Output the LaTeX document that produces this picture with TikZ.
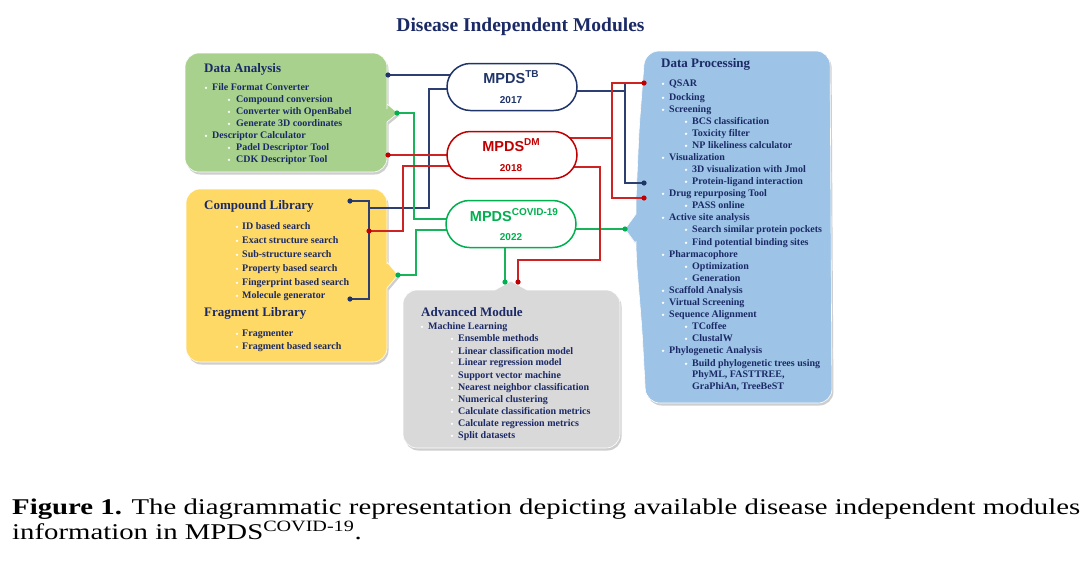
\documentclass[tikz,border=0pt]{standalone}
\usepackage{fontspec}
\usepackage{graphicx}
\setmainfont{Liberation Serif}
\setsansfont{Liberation Sans}
\usetikzlibrary{shapes.misc,calc,shadows}
\pgfdeclarelayer{bg}
\pgfdeclarelayer{boxes}
\pgfdeclarelayer{lines}
\pgfsetlayers{bg,boxes,lines,main}
\definecolor{navytxt}{RGB}{27,42,102}
\definecolor{tbc}{RGB}{31,52,105}
\definecolor{dmc}{RGB}{192,0,0}
\definecolor{cvc}{RGB}{0,176,80}
\definecolor{dagreen}{RGB}{169,209,142}
\definecolor{clyellow}{RGB}{255,217,102}
\definecolor{amgray}{RGB}{217,217,217}
\definecolor{dpblue}{RGB}{157,195,230}
\definecolor{nvline}{RGB}{45,62,112}
\definecolor{rdline}{RGB}{205,35,35}
\definecolor{gnline}{RGB}{25,180,90}
\newsavebox\capboxA
\newsavebox\capboxB
\tikzset{
  boxsty/.style={draw=white, line width=0.6pt,
    drop shadow={shadow xshift=1.5pt, shadow yshift=-2.5pt, opacity=.35, fill=black!55}},
  itm/.style={inner sep=0, text=navytxt, font=\fontsize{10}{12}\selectfont\bfseries},
  ttl/.style={inner sep=0, text=navytxt, font=\fontsize{13}{15}\selectfont\bfseries, anchor=base west},
  pill/.style={rounded rectangle, minimum width=130pt, minimum height=47pt, line width=1.5pt, fill=white, inner sep=0},
  mpt/.style={anchor=base, inner sep=0, font=\sffamily\bfseries\fontsize{14.5}{16}\selectfont},
  yrt/.style={anchor=base, inner sep=0, font=\sffamily\bfseries\fontsize{10}{12}\selectfont},
  nvl/.style={draw=nvline, line width=1.4pt},
  rdl/.style={draw=rdline, line width=1.4pt},
  gnl/.style={draw=gnline, line width=1.4pt},
}
\newcommand\itemline[5]{%
  \node[itm, anchor=base west] (#1) at (#2,#3+3.5) {#4};
  \fill[white] (#5,#3+0.8) circle (1.3);
}
\newcommand\supx[1]{\raisebox{5.5pt}{\fontsize{10}{10}\selectfont #1}}
\begin{document}
\sbox\capboxA{\fontsize{22.5}{26}\selectfont\textbf{Figure 1.} The diagrammatic representation depicting available disease independent modules}%
\sbox\capboxB{\fontsize{22.5}{26}\selectfont information in MPDS\textsuperscript{COVID-19}.}%
\pgfmathsetmacro\capxs{1068/\the\wd\capboxA}%
\begin{tikzpicture}[x=1pt,y=-1pt]
\useasboundingbox (0,0) rectangle (1091,579);
\begin{pgfonlayer}{bg}
\fill[white] (0,0) rectangle (1091,579);
\end{pgfonlayer}

% title
\node[anchor=base, inner sep=0, text=navytxt, font=\fontsize{19.5}{22}\selectfont\bfseries] (title) at (520.5,31) {Disease Independent Modules};

% boxes
\begin{pgfonlayer}{boxes}
\path[boxsty, fill=dagreen] [rounded corners=14] (290,53) -- (387,53) -- (387,95) [sharp corners] -- (387,104) -- (398,113) -- (387,122) -- (387,135) [rounded corners=14] -- (387,172) -- (185,172) -- (185,53) -- cycle;
\path[boxsty, fill=clyellow] [rounded corners=14] (290,189) -- (387,189) -- (387,250) [sharp corners] -- (387,262) -- (398,275) -- (387,288) -- (387,300) [rounded corners=14] -- (387,362) -- (186,362) -- (186,189) -- cycle;
\path[boxsty, fill=amgray] [rounded corners=14] (403,370) -- (403,290) -- (480,290) [sharp corners] -- (495,290) -- (511,281) -- (527,290) -- (540,290) [rounded corners=14] -- (620,290) -- (620,448) -- (403,448) -- cycle;
\path[boxsty, fill=dpblue] [rounded corners=14] (740,51) -- (830,51) -- (832,403) -- (646,403) -- (642,330) -- (636,255) [sharp corners] -- (636,244) -- (625,229) -- (636,214) -- (636,200) [rounded corners=14] -- (639,130) -- (645,51) -- cycle;
\end{pgfonlayer}

% MPDS nodes
\node[pill, draw=tbc] (TB) at (512,87) {};
\node[pill, draw=dmc] (DM) at (512,155) {};
\node[pill, draw=cvc] (CV) at (511,224) {};
\node[mpt, text=tbc] (TBt) at (511,83) {MPDS\supx{TB}};
\node[yrt, text=tbc] (TBy) at (511,103) {2017};
\node[mpt, text=dmc] (DMt) at (511,151) {MPDS\supx{DM}};
\node[yrt, text=dmc] (DMy) at (511,171) {2018};
\node[mpt, text=cvc] (CVt) at (514,221) {MPDS\supx{COVID-19}};
\node[yrt, text=cvc] (CVy) at (511,240) {2022};

% Data Analysis
\node[ttl] (daT) at (204,72.5) {Data Analysis};
\itemline{da1}{212}{87}{File Format Converter}{206}
\itemline{da2}{236}{99}{Compound conversion}{229}
\itemline{da3}{236}{111}{Converter with OpenBabel}{229}
\itemline{da4}{236}{123}{Generate 3D coordinates}{229}
\itemline{da5}{212}{135}{Descriptor Calculator}{206}
\itemline{da6}{236}{147}{Padel Descriptor Tool}{229}
\itemline{da7}{236}{159}{CDK Descriptor Tool}{229}

% Compound / Fragment library
\node[ttl] (clT) at (204,209.5) {Compound Library};
\itemline{cl1}{242}{226}{ID based search}{237}
\itemline{cl2}{242}{240}{Exact structure search}{237}
\itemline{cl3}{242}{254}{Sub-structure search}{237}
\itemline{cl4}{242}{268}{Property based search}{237}
\itemline{cl5}{242}{282}{Fingerprint based search}{237}
\itemline{cl6}{242}{295}{Molecule generator}{237}
\node[ttl] (flT) at (204,316.5) {Fragment Library};
\itemline{fl1}{242}{333}{Fragmenter}{237}
\itemline{fl2}{242}{346}{Fragment based search}{237}

% Advanced module
\node[ttl] (amT) at (421,316.5) {Advanced Module};
\itemline{am0}{428}{326}{Machine Learning}{422}
\itemline{am1}{458}{338}{Ensemble methods}{452}
\itemline{am2}{458}{351}{Linear classification model}{452}
\itemline{am3}{458}{362}{Linear regression model}{452}
\itemline{am4}{458}{375}{Support vector machine}{452}
\itemline{am5}{458}{387}{Nearest neighbor classification}{452}
\itemline{am6}{458}{399}{Numerical clustering}{452}
\itemline{am7}{458}{411}{Calculate classification metrics}{452}
\itemline{am8}{458}{423}{Calculate regression metrics}{452}
\itemline{am9}{458}{435}{Split datasets}{452}

% Data processing
\node[ttl] (dpT) at (661,67.5) {Data Processing};
\itemline{dp1}{669}{83}{QSAR}{663}
\itemline{dp2}{669}{97}{Docking}{663}
\itemline{dp3}{669}{109}{Screening}{663}
\itemline{dp4}{692}{121}{BCS classification}{686}
\itemline{dp5}{692}{133}{Toxicity filter}{686}
\itemline{dp6}{692}{145}{NP likeliness calculator}{686}
\itemline{dp7}{669}{157}{Visualization}{663}
\itemline{dp8}{692}{169}{3D visualization with Jmol}{686}
\itemline{dp9}{692}{181}{Protein-ligand interaction}{686}
\itemline{dp10}{669}{193}{Drug repurposing Tool}{663}
\itemline{dp11}{692}{205}{PASS online}{686}
\itemline{dp12}{669}{217}{Active site analysis}{663}
\itemline{dp13}{692}{229}{Search similar protein pockets}{686}
\itemline{dp14}{692}{242}{Find potential binding sites}{686}
\itemline{dp15}{669}{254}{Pharmacophore}{663}
\itemline{dp16}{692}{266}{Optimization}{686}
\itemline{dp17}{692}{278}{Generation}{686}
\itemline{dp18}{669}{290}{Scaffold Analysis}{663}
\itemline{dp19}{669}{302}{Virtual Screening}{663}
\itemline{dp20}{669}{314}{Sequence Alignment}{663}
\itemline{dp21}{692}{326}{TCoffee}{686}
\itemline{dp22}{692}{338}{ClustalW}{686}
\itemline{dp23}{669}{350}{Phylogenetic Analysis}{663}
\itemline{dp24}{692}{363}{Build phylogenetic trees using}{686}
\node[itm, anchor=base west] (dp25) at (692,377.5) {PhyML, FASTTREE,};
\node[itm, anchor=base west] (dp26) at (692,389.5) {GraPhiAn, TreeBeST};

% connector end points
\coordinate (daN) at (388,75);
\coordinate (daG) at (397,113);
\coordinate (daR) at (388,155);
\coordinate (clN1) at (350,201);
\coordinate (clN2) at (350,299);
\coordinate (clR) at (369,231);
\coordinate (clG) at (398,275);
\coordinate (dpR1) at (644,83);
\coordinate (dpN) at (644,183);
\coordinate (dpR2) at (644,198);
\coordinate (dpG) at (625,229);
\coordinate (amG) at (505,282);
\coordinate (amR) at (518,282);

\begin{pgfonlayer}{lines}
% navy
\draw[nvl] (daN) -- (daN -| TB.center);
\draw[nvl] ($(TB.center)+(0,2)$) -| (429,208) -- (369,208);
\draw[nvl] (clN1) -| (369,299) -- (clN2);
\draw[nvl] ($(TB.center)+(0,4)$) -- (625,91);
\draw[nvl] (dpR1) -| (625,183) -- (dpN);
% green
\draw[gnl] (daG) -| (414,219) -- (CV.center |- 0,219);
\draw[gnl] (clG) -| (416,230) -- (CV.center |- 0,230);
\draw[gnl] (CV.center |- 0,229) -- (dpG);
\draw[gnl] (CV.center -| amG) -- (amG);
% red
\draw[rdl] (daR) -- (daR -| DM.center);
\draw[rdl] (clR) -| (403,166) -- (DM.center |- 0,166);
\draw[rdl] ($(DM.center)+(0,-17)$) -- (612,138);
\draw[rdl] (dpR1) -| (612,198) -- (dpR2);
\draw[rdl] ($(DM.center)+(0,12)$) -| (600,260) -| (amR);
% dots
\fill[tbc] (daN) circle (2.6) (clN1) circle (2.6) (clN2) circle (2.6) (dpN) circle (2.6);
\fill[dmc] (daR) circle (2.6) (clR) circle (2.6) (dpR1) circle (2.6) (dpR2) circle (2.6) (amR) circle (2.6);
\fill[cvc] (daG) circle (2.6) (clG) circle (2.6) (dpG) circle (2.6) (amG) circle (2.6);
\end{pgfonlayer}

% caption
\node[anchor=base west, inner sep=0] (cap1) at (12,514) {\scalebox{\capxs}[1]{\usebox\capboxA}};
\node[anchor=base west, inner sep=0] (cap2) at (12,539) {\scalebox{\capxs}[1]{\usebox\capboxB}};
\end{tikzpicture}
\end{document}
